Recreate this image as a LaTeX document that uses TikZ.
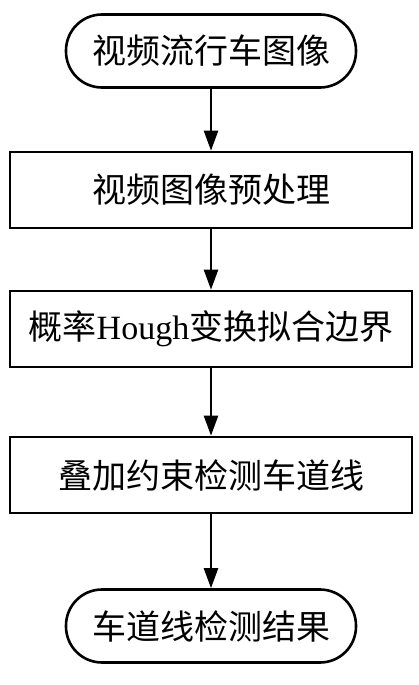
\documentclass[tikz,border=0pt]{standalone}
\usepackage{fontspec}
\setmainfont{Liberation Serif}
\newfontfamily\cjk{Noto Sans CJK SC}
\usetikzlibrary{arrows.meta}

\begin{document}
\begin{tikzpicture}[x=1pt,y=-1pt,
    line width=2.6pt,
    term/.style={draw,rounded corners=36pt,minimum width=290pt,minimum height=73pt,inner sep=0pt,
      font=\fontsize{34}{40}\selectfont\cjk},
    proc/.style={draw,minimum width=402pt,minimum height=76pt,inner sep=0pt,
      font=\fontsize{34}{40}\selectfont\cjk},
    flow/.style={-{Triangle[length=20pt,width=14pt]},line width=2.4pt}]
    \useasboundingbox (0,0) rectangle (419,685);

    \node[term] (video) at (211,51) {视频流行车图像};
    \node[proc] (pre) at (211,190) {视频图像预处理};
    \node[proc] (hough) at (211,329) {概率{\rmfamily Hough}变换拟合边界};
    \node[proc] (lane) at (211,475) {叠加约束检测车道线};
    \node[term] (result) at (211,626) {车道线检测结果};

    \draw[flow] (video) -- (pre);
    \draw[flow] (pre) -- (hough);
    \draw[flow] (hough) -- (lane);
    \draw[flow] (lane) -- (result);
\end{tikzpicture}
\end{document}
